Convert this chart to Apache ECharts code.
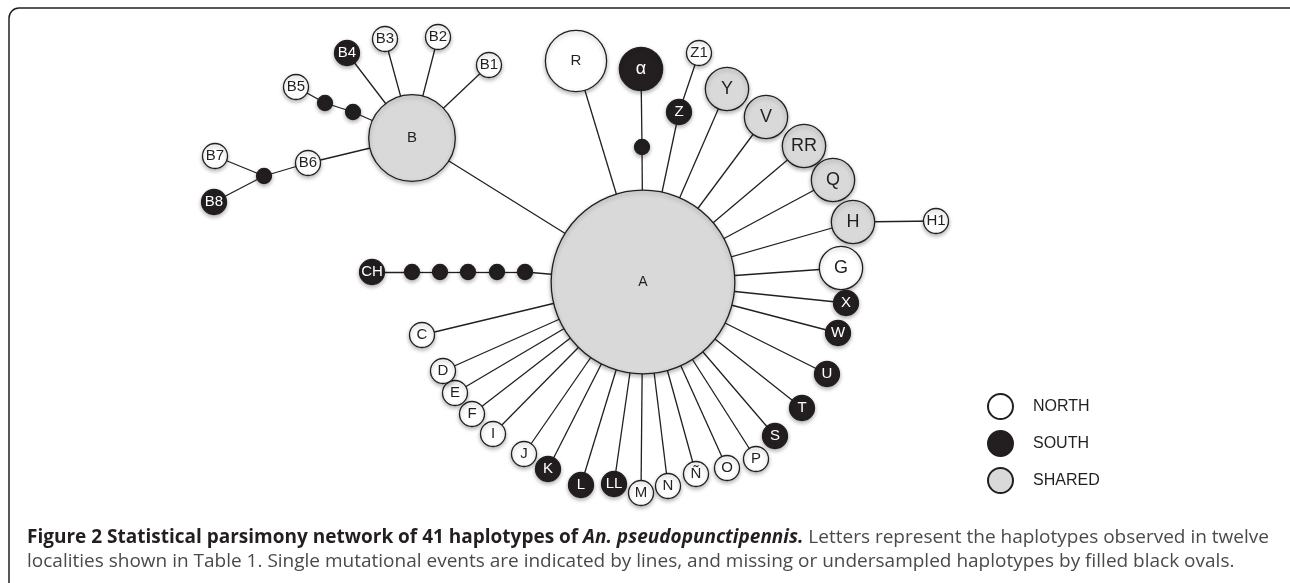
<!DOCTYPE html>
<html>
<head>
<meta charset="utf-8">
<script src="https://cdn.jsdelivr.net/npm/echarts@6/dist/echarts.min.js"></script>
<style>
  html, body { margin: 0; padding: 0; background: #fff; }
  #network { width: 1290px; height: 583px; }
</style>
</head>
<body>
<div id="network"></div>
<script>
// haplotypes: name, layout position, region, frequency
var hapNames = ["A", "B", "B1", "B2", "B3", "B4", "B5", "B6", "B7", "B8",
  "R", "α", "Z1", "Z", "Y", "V", "RR", "Q", "H", "H1", "G",
  "X", "W", "U", "T", "S", "P", "O", "Ñ", "N", "M",
  "LL", "L", "K", "J", "I", "F", "E", "D", "C", "CH"];
var hapX = [643, 412, 489, 438, 385, 347, 296, 308, 215, 214,
  576, 641, 699, 679, 727, 766, 804, 833, 853, 936, 841,
  846, 838, 827, 802, 775, 756, 727, 696, 668, 641,
  614, 581, 548, 524, 493, 472, 455, 443, 422, 372];
var hapY = [282, 138, 65, 37, 39, 53, 87, 163, 156, 202,
  61, 69, 53, 112, 89, 117, 146, 180, 222, 221, 268,
  303, 333, 374, 408, 436, 459, 468, 474, 486, 493,
  484, 485, 469, 454, 434, 414, 393, 371, 335, 272];
var hapRegion = ["SHARED", "SHARED", "NORTH", "NORTH", "NORTH", "SOUTH", "NORTH", "NORTH", "NORTH", "SOUTH",
  "NORTH", "SOUTH", "NORTH", "SOUTH", "SHARED", "SHARED", "SHARED", "SHARED", "SHARED", "NORTH", "NORTH",
  "SOUTH", "SOUTH", "SOUTH", "SOUTH", "SOUTH", "NORTH", "NORTH", "NORTH", "NORTH", "NORTH",
  "SOUTH", "SOUTH", "SOUTH", "NORTH", "NORTH", "NORTH", "NORTH", "NORTH", "NORTH", "SOUTH"];
var hapFreq = [54, 12, 1, 1, 1, 1, 1, 1, 1, 1,
  6, 3, 1, 1, 3, 3, 3, 3, 3, 1, 3,
  1, 1, 1, 1, 1, 1, 1, 1, 1, 1,
  1, 1, 1, 1, 1, 1, 1, 1, 1, 1];

// missing / undersampled haplotypes (black dots)
var missNames = ["m1", "m2", "m3", "m4", "m5", "m6", "m7", "m8", "m9"];
var missX = [325, 353, 264, 642, 412, 440, 468, 497, 525];
var missY = [103, 112, 176, 147, 272, 272, 272, 272, 272];

// single mutational steps
var linkFrom = ["A", "B", "B", "B", "B", "B", "m2", "m1", "B", "B6", "m3", "m3",
  "A", "A", "m4", "A", "Z", "A", "A", "A", "A", "A", "H", "A",
  "A", "A", "A", "A", "A", "A", "A", "A", "A", "A",
  "A", "A", "A", "A", "A", "A", "A", "A", "A",
  "A", "m9", "m8", "m7", "m6", "m5"];
var linkTo = ["B", "B1", "B2", "B3", "B4", "m2", "m1", "B5", "B6", "m3", "B7", "B8",
  "R", "m4", "α", "Z", "Z1", "Y", "V", "RR", "Q", "H", "H1", "G",
  "X", "W", "U", "T", "S", "P", "O", "Ñ", "N", "M", "LL",
  "L", "K", "J", "I", "F", "E", "D", "C",
  "m9", "m8", "m7", "m6", "m5", "CH"];

var legendNames = ["NORTH", "SOUTH", "SHARED"];

var ink = "#231f20";
var regionFill = { NORTH: "#ffffff", SOUTH: ink, SHARED: "#d9d9d9" };

var nodes = hapNames.map(function (name, i) {
  var r = 12.5 * Math.sqrt(hapFreq[i]);
  var fs = 15;
  if (hapFreq[i] >= 3 && hapFreq[i] < 6) fs = 18;
  if (hapFreq[i] >= 20) fs = 14;
  return {
    name: name,
    value: [hapX[i], hapY[i]],
    category: legendNames.indexOf(hapRegion[i]),
    symbolSize: r * 2,
    label: {
      fontSize: fs,
      color: hapRegion[i] === "SOUTH" ? "#fff" : ink
    }
  };
});
missNames.forEach(function (name, i) {
  nodes.push({
    name: name,
    value: [missX[i], missY[i]],
    category: 1,
    symbolSize: 15,
    label: { show: false }
  });
});

var links = linkFrom.map(function (s, i) {
  return { source: s, target: linkTo[i] };
});

var myChart = echarts.init(document.getElementById("network"));

var capFont = "Open Sans";
var capSize = 19;

var option = {
  animation: false,
  title: {
    left: 22,
    top: 521,
    text: "{b|Figure 2 Statistical parsimony network of 41 haplotypes of }{bi|An. pseudopunctipennis.}{n| Letters represent the haplotypes observed in twelve}\n" +
      "{n|localities shown in Table 1. Single mutational events are indicated by lines, and missing or undersampled haplotypes by filled black ovals.}",
    textStyle: {
      rich: {
        b: { fontFamily: capFont, fontWeight: "bold", fontSize: capSize, color: ink, lineHeight: 24 },
        bi: { fontFamily: capFont, fontWeight: "bold", fontStyle: "italic", fontSize: capSize, color: ink, lineHeight: 24 },
        n: { fontFamily: capFont, fontWeight: "normal", fontSize: capSize, color: "#4a4a4a", lineHeight: 24 }
      }
    }
  },
  graphic: [{
    type: "rect",
    shape: { x: 9, y: 8, width: 1300, height: 620, r: 10 },
    style: { fill: "none", stroke: ink, lineWidth: 1.5 },
    silent: true
  }],
  legend: {
    data: legendNames,
    orient: "vertical",
    left: 982,
    top: 388,
    itemWidth: 25,
    itemHeight: 25,
    itemGap: 10,
    icon: "circle",
    selectedMode: false,
    textStyle: {
      fontFamily: "Liberation Sans",
      fontSize: 16,
      color: ink,
      padding: [0, 0, 0, 15]
    }
  },
  grid: { left: 0, right: 0, top: 0, bottom: 0 },
  xAxis: { type: "value", min: 0, max: 1290, show: false },
  yAxis: { type: "value", min: 0, max: 583, inverse: true, show: false },
  series: [
    {
      type: "graph",
      coordinateSystem: "cartesian2d",
      layout: "none",
      roam: false,
      symbol: "circle",
      categories: legendNames.map(function (n) {
        return { name: n, itemStyle: { color: regionFill[n] } };
      }),
      data: nodes,
      links: links,
      itemStyle: {
        borderColor: ink,
        borderWidth: 1.3,
        shadowBlur: 4,
        shadowColor: "rgba(0,0,0,0.3)",
        shadowOffsetY: 2
      },
      label: {
        show: true,
        position: "inside",
        fontFamily: "Liberation Sans",
        formatter: "{b}"
      },
      lineStyle: { color: ink, width: 1.3, opacity: 1, curveness: 0 },
      emphasis: { disabled: true }
    }
  ]
};

myChart.setOption(option);
</script>
</body>
</html>
